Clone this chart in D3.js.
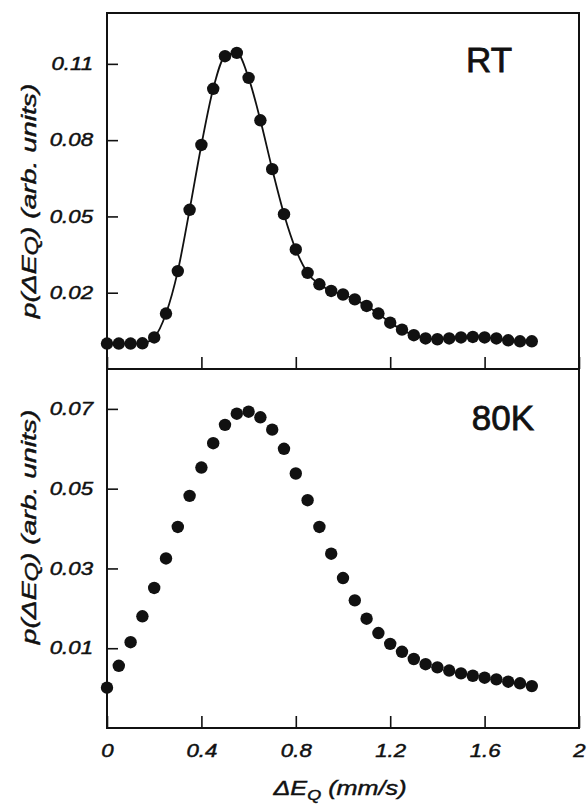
<!DOCTYPE html>
<html>
<head>
<meta charset="utf-8">
<script src="https://cdn.jsdelivr.net/npm/d3@7"></script>
<style>
    body { margin: 0; background: #fff; }
    svg text { font-family: "Liberation Sans", Arial, sans-serif; fill: #111; stroke: #111; stroke-width: 0.45px; }
</style>
</head>
<body>
<svg id="chart" width="588" height="807"></svg>
<script>
// quadrupole splitting (mm/s)
const deltaEq = [0, 0.05, 0.1, 0.15, 0.2, 0.25, 0.3, 0.35, 0.4, 0.45, 0.5, 0.55, 0.6, 0.65, 0.7, 0.75,
    0.8, 0.85, 0.9, 0.95, 1.0, 1.05, 1.1, 1.15, 1.2, 1.25, 1.3, 1.35, 1.4, 1.45, 1.5, 1.55, 1.6,
    1.65, 1.7, 1.75, 1.8];

// p(dEq) at room temperature
const rtValues = [0.0000, 0.0000, 0.0000, 0.0001, 0.0024, 0.0118, 0.0285, 0.0526, 0.0781, 0.1002,
    0.1130, 0.1143, 0.1045, 0.0878, 0.0686, 0.0509, 0.0370, 0.0278, 0.0233, 0.0207, 0.0193,
    0.0174, 0.0148, 0.0118, 0.0082, 0.0055, 0.0033, 0.0020, 0.0017, 0.0020, 0.0024, 0.0026,
    0.0024, 0.0020, 0.0013, 0.0009, 0.0009];

// p(dEq) at 80 K
const k80Values = [0.0001, 0.0056, 0.0115, 0.0180, 0.0251, 0.0325, 0.0404, 0.0482, 0.0553, 0.0614,
    0.0660, 0.0688, 0.0693, 0.0679, 0.0648, 0.0600, 0.0538, 0.0471, 0.0404, 0.0337, 0.0276,
    0.0220, 0.0174, 0.0138, 0.0111, 0.0091, 0.0073, 0.0060, 0.0052, 0.0044, 0.0037, 0.0031,
    0.0026, 0.0022, 0.0016, 0.0012, 0.0005];

const xTicks = [0, 0.4, 0.8, 1.2, 1.6, 2];
const rtTicks = [0.02, 0.05, 0.08, 0.11];
const k80Ticks = [0.01, 0.03, 0.05, 0.07];

const svg = d3.select("#chart");
const stretch = 1.27;   // the scanned lettering is wide

const x = d3.scaleLinear().domain([0, 2]).range([107, 579]);

const panels = [
    { tag: "RT", values: rtValues, ticks: rtTicks, domain: [-0.01, 0.13], top: 13, bottom: 369,
      fit: true, tagX: 489, tagY: 72, labelY: 201 },
    { tag: "80K", values: k80Values, ticks: k80Ticks, domain: [-0.01, 0.08], top: 369, bottom: 728,
      fit: false, tagX: 503, tagY: 430, labelY: 527 }
];

panels.forEach((p, i) => {
    const y = d3.scaleLinear().domain(p.domain).range([p.bottom, p.top]);
    const pts = deltaEq.map((d, j) => [d, p.values[j]]);

    // y axis, ticks pointing inward
    const yAxis = svg.append("g")
        .attr("transform", `translate(${x.range()[0]},0)`)
        .call(d3.axisLeft(y).tickValues(p.ticks).tickSizeInner(-11).tickSizeOuter(0)
            .tickFormat(d3.format(".2f")));
    yAxis.select(".domain").remove();
    yAxis.selectAll("line").attr("stroke", "#111").attr("stroke-width", 1.6);
    yAxis.selectAll("text")
        .attr("x", -14 / stretch)
        .attr("transform", `scale(${stretch},1)`)
        .style("font-size", "17.5px")
        .style("font-style", "italic");

    // x axis at bottom of each panel
    const xAxis = svg.append("g")
        .attr("transform", `translate(0,${p.bottom})`)
        .call(d3.axisBottom(x).tickValues(xTicks).tickSizeInner(-12).tickSizeOuter(0)
            .tickFormat(i === 1 ? d3.format("~g") : ""));
    xAxis.select(".domain").remove();
    xAxis.selectAll("line").attr("stroke", "#111").attr("stroke-width", 1.6);
    xAxis.selectAll("text")
        .attr("y", 29)
        .attr("dy", "0")
        .attr("transform", `scale(${stretch},1)`)
        .style("font-size", "17.5px")
        .style("font-style", "italic");

    // frame
    svg.append("rect")
        .attr("x", x.range()[0])
        .attr("y", p.top)
        .attr("width", x.range()[1] - x.range()[0])
        .attr("height", p.bottom - p.top)
        .attr("fill", "none")
        .attr("stroke", "#111")
        .attr("stroke-width", 2);

    if (p.fit) {
        svg.append("path")
            .datum(pts)
            .attr("fill", "none")
            .attr("stroke", "#111")
            .attr("stroke-width", 1.8)
            .attr("d", d3.line().x(d => x(d[0])).y(d => y(d[1])).curve(d3.curveMonotoneX));
    }

    svg.append("g")
        .selectAll("circle")
        .data(pts)
        .join("circle")
        .attr("cx", d => x(d[0]))
        .attr("cy", d => y(d[1]))
        .attr("r", 6.2)
        .attr("fill", "#111");

    svg.append("text")
        .attr("x", p.tagX)
        .attr("y", p.tagY)
        .attr("text-anchor", "middle")
        .style("font-size", "35px")
        .style("stroke-width", "0.8px")
        .text(p.tag);

    // y label
    const yl = svg.append("text")
        .attr("transform", `translate(36,${p.labelY}) rotate(-90) scale(1.38,1)`)
        .attr("text-anchor", "middle")
        .style("font-size", "20.5px")
        .style("font-style", "italic");
    yl.append("tspan").text("p(\u0394E");
    yl.append("tspan").attr("dy", 2).style("font-size", "18px").text("Q");
    yl.append("tspan").attr("dy", -2).text(") (arb. units)");
});

// x label
const xl = svg.append("text")
    .attr("transform", "translate(340,795) scale(1.2,1)")
    .attr("text-anchor", "middle")
    .style("font-size", "21px")
    .style("font-style", "italic");
xl.append("tspan").text("\u0394E");
xl.append("tspan").attr("dy", 5).style("font-size", "15px").text("Q");
xl.append("tspan").attr("dy", -5).text(" (mm/s)");
</script>
</body>
</html>
